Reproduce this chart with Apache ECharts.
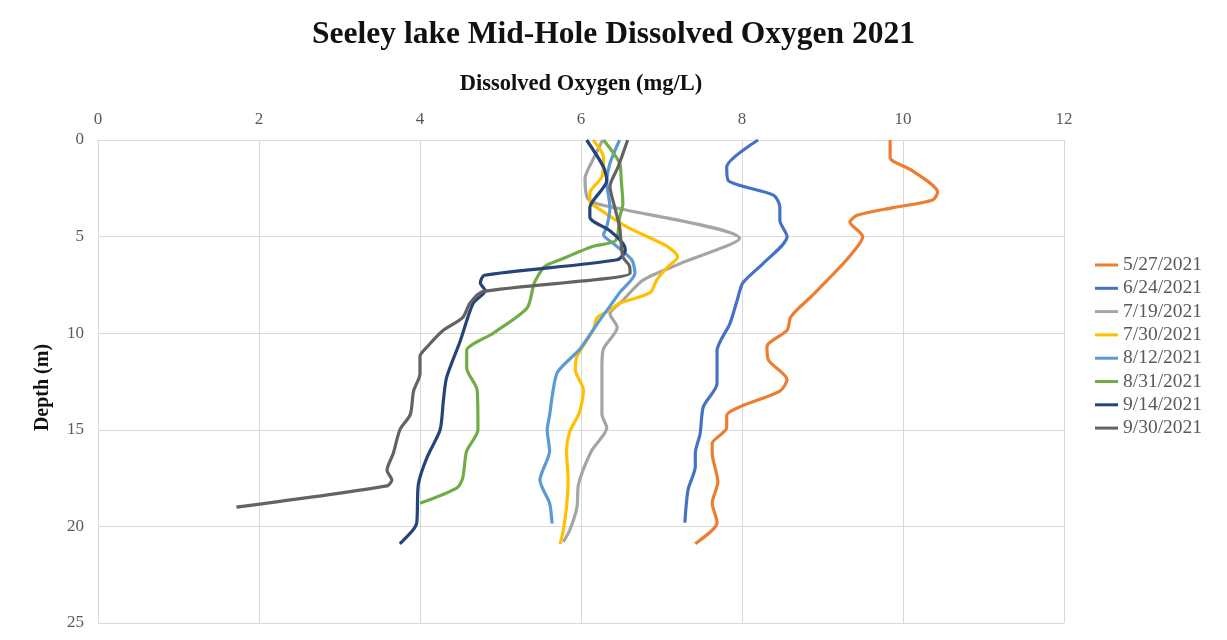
<!DOCTYPE html>
<html>
<head>
<meta charset="utf-8">
<script src="https://cdn.jsdelivr.net/npm/echarts@6/dist/echarts.min.js"></script>
<style>
html,body{margin:0;padding:0;background:#fff;}
#chart{width:1227px;height:640px;}
</style>
</head>
<body>
<div id="chart"></div>
<script>
const seriesNames = ['5/27/2021','6/24/2021','7/19/2021','7/30/2021','8/12/2021','8/31/2021','9/14/2021','9/30/2021'];
const xTicks = [0, 2, 4, 6, 8, 10, 12];
const yTicks = [0, 5, 10, 15, 20, 25];

const depth0527 = [0, 0.9, 1.6, 2.7, 3.1, 3.5, 3.9, 4.25, 5.0, 6.2, 7.25, 8.1, 8.8, 9.2, 9.85, 10.7, 11.4, 12.4, 13.0, 13.8, 14.25, 14.9, 15.7, 16.2, 17.7, 18.8, 19.8, 20.2, 20.9];
const do0527    = [9.84, 9.84, 10.12, 10.43, 10.37, 9.88, 9.43, 9.34, 9.5, 9.3, 9.06, 8.86, 8.68, 8.6, 8.56, 8.31, 8.33, 8.56, 8.47, 7.98, 7.81, 7.81, 7.63, 7.63, 7.7, 7.63, 7.69, 7.63, 7.42];

const depth0624 = [0, 1.4, 2.1, 2.85, 3.45, 4.15, 5.0, 6.4, 7.4, 8.3, 9.5, 10.9, 12.6, 13.8, 15.2, 16.2, 16.9, 18.1, 19.8];
const do0624    = [8.2, 7.81, 7.83, 8.39, 8.47, 8.47, 8.56, 8.26, 8.01, 7.94, 7.85, 7.69, 7.69, 7.52, 7.48, 7.42, 7.42, 7.33, 7.29];

const depth0719 = [0, 1, 2, 3, 3.3, 5.1, 6.4, 7.25, 8.3, 9.0, 9.7, 10.8, 11.7, 14.2, 14.9, 16.1, 17.8, 19.0, 20.2, 20.8];
const do0719    = [6.27, 6.15, 6.05, 6.08, 6.2, 7.97, 7.23, 6.77, 6.52, 6.36, 6.45, 6.28, 6.26, 6.26, 6.32, 6.13, 5.97, 5.95, 5.86, 5.78];

const depth0730 = [0, 0.9, 1.9, 2.75, 3.2, 3.5, 4.5, 5.5, 6.05, 6.6, 7.25, 7.9, 8.45, 8.8, 9.2, 9.85, 11.2, 11.9, 12.95, 14.1, 15.1, 16.1, 17.6, 19.0, 20.2, 20.9];
const do0730    = [6.15, 6.28, 6.26, 6.11, 6.11, 6.2, 6.57, 7.07, 7.2, 7.07, 6.94, 6.86, 6.48, 6.36, 6.2, 6.15, 5.95, 5.93, 6.03, 5.98, 5.86, 5.82, 5.84, 5.82, 5.78, 5.74];

const depth0812 = [0, 1.2, 2.2, 3.5, 4.5, 4.9, 5.35, 6.2, 6.9, 7.9, 8.6, 9.4, 10.8, 12.0, 13.05, 14.25, 15.0, 16.1, 17.6, 18.8, 19.85];
const do0812    = [6.48, 6.36, 6.32, 6.36, 6.32, 6.28, 6.4, 6.63, 6.67, 6.48, 6.36, 6.22, 5.99, 5.71, 5.65, 5.61, 5.58, 5.61, 5.49, 5.61, 5.64];

const depth0831 = [0, 1.2, 2.1, 3.3, 4.0, 5.2, 5.5, 6.2, 6.55, 7.4, 8.7, 10.0, 10.9, 11.8, 12.95, 15.0, 16.1, 17.5, 18.0, 18.8];
const do0831    = [6.28, 6.48, 6.5, 6.52, 6.48, 6.43, 6.15, 5.74, 5.55, 5.42, 5.33, 4.91, 4.58, 4.58, 4.71, 4.72, 4.58, 4.53, 4.46, 4.0];

const depth0914 = [0, 1.4, 2.1, 3.5, 4.0, 4.7, 5.35, 5.7, 6.2, 7.0, 7.4, 7.8, 8.45, 10.4, 12.3, 13.5, 15.0, 16.4, 17.8, 19.8, 20.2, 20.9];
const do0914    = [6.07, 6.28, 6.32, 6.11, 6.11, 6.36, 6.52, 6.55, 6.45, 4.8, 4.75, 4.81, 4.66, 4.5, 4.33, 4.29, 4.25, 4.09, 3.98, 3.96, 3.91, 3.75];

const depth0930 = [0, 1.4, 2.4, 3.5, 4.5, 6.05, 6.5, 6.9, 7.85, 8.45, 9.2, 9.85, 10.7, 11.2, 12.1, 13.0, 14.2, 15.0, 16.2, 17.1, 17.6, 17.9, 19.0];
const do0930    = [6.58, 6.46, 6.36, 6.42, 6.48, 6.52, 6.6, 6.61, 4.78, 4.62, 4.53, 4.29, 4.09, 4.0, 4.0, 3.92, 3.88, 3.75, 3.67, 3.59, 3.65, 3.59, 1.72];

const depths = [depth0527, depth0624, depth0719, depth0730, depth0812, depth0831, depth0914, depth0930];
const values = [do0527, do0624, do0719, do0730, do0812, do0831, do0914, do0930];
const colors = ['#ED7D31','#4472C4','#A5A5A5','#FFC000','#5B9BD5','#70AD47','#264478','#636363'];

const FONT = '"Liberation Serif", "Times New Roman", serif';
const chart = echarts.init(document.getElementById('chart'), null, {renderer: 'canvas'});

const series = seriesNames.map((name, i) => ({
  name: name,
  type: 'line',
  data: values[i].map((v, k) => [v, depths[i][k]]),
  showSymbol: false,
  symbol: 'none',
  smooth: 0.25,
  lineStyle: {width: 3.2, color: colors[i]},
  itemStyle: {color: colors[i]},
  z: 2 + i
}));

chart.setOption({
  animation: false,
  backgroundColor: '#ffffff',
  title: {
    text: 'Seeley lake Mid-Hole Dissolved Oxygen 2021',
    left: 'center',
    top: 14,
    textStyle: {fontFamily: FONT, fontSize: 31.5, fontWeight: 'bold', color: '#111111'}
  },
  legend: {
    orient: 'vertical',
    left: 1095,
    top: 255,
    padding: 0,
    itemWidth: 23,
    itemHeight: 3,
    itemGap: 3.3,
    icon: 'rect',
    data: seriesNames,
    textStyle: {fontFamily: FONT, fontSize: 19.5, color: '#595959', lineHeight: 19}
  },
  grid: {left: 98, top: 140, width: 966, height: 483, containLabel: false},
  xAxis: {
    type: 'value',
    position: 'top',
    min: xTicks[0],
    max: xTicks[xTicks.length - 1],
    interval: xTicks[1] - xTicks[0],
    name: 'Dissolved Oxygen (mg/L)',
    nameLocation: 'middle',
    nameGap: 44,
    nameTextStyle: {fontFamily: FONT, fontSize: 22.5, fontWeight: 'bold', color: '#111111'},
    axisLine: {show: true, lineStyle: {color: '#d9d9d9', width: 1}},
    axisTick: {show: false},
    axisLabel: {fontFamily: FONT, fontSize: 17, color: '#595959', margin: 12},
    splitLine: {show: true, lineStyle: {color: '#d9d9d9', width: 1}}
  },
  yAxis: {
    type: 'value',
    inverse: true,
    min: yTicks[0],
    max: yTicks[yTicks.length - 1],
    interval: yTicks[1] - yTicks[0],
    name: 'Depth (m)',
    nameLocation: 'middle',
    nameGap: 45,
    nameRotate: 90,
    nameTextStyle: {fontFamily: FONT, fontSize: 20, fontWeight: 'bold', color: '#111111', padding: [0, 12, 0, 0]},
    axisLine: {show: true, lineStyle: {color: '#d9d9d9', width: 1}},
    axisTick: {show: false},
    axisLabel: {fontFamily: FONT, fontSize: 17, color: '#595959', margin: 14},
    splitLine: {show: true, lineStyle: {color: '#d9d9d9', width: 1}}
  },
  series: series
});
</script>
</body>
</html>
